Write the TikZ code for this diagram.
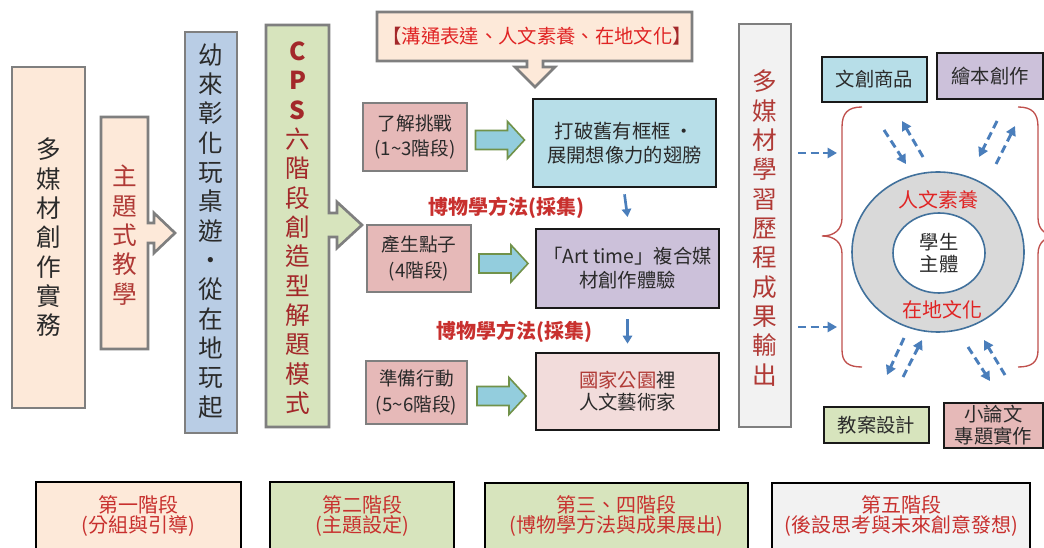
\documentclass[tikz,border=0pt]{standalone}
\usepackage{fontspec}
\setmainfont{Noto Sans CJK TC}
\usetikzlibrary{shapes.geometric,fit,calc,arrows.meta}
\definecolor{peach}{HTML}{FDE9D9}
\definecolor{lblue}{HTML}{B9CDE5}
\definecolor{lgreen}{HTML}{D7E4BD}
\definecolor{pinkb}{HTML}{E6B9B8}
\definecolor{cyanb}{HTML}{B7DEE8}
\definecolor{lav}{HTML}{CCC1DA}
\definecolor{lpink}{HTML}{F2DCDB}
\definecolor{lgray}{HTML}{F2F2F2}
\definecolor{bgray}{HTML}{7F7F7F}
\definecolor{dred}{HTML}{B03A36}
\definecolor{cpsred}{HTML}{A3282A}
\definecolor{bred}{HTML}{E02424}
\definecolor{mred}{HTML}{C8302E}
\definecolor{txt}{HTML}{2A2A2A}
\definecolor{dblue}{HTML}{4A7EBB}
\definecolor{ringgray}{HTML}{D9D9D9}
\definecolor{ringblue}{HTML}{41719C}
\definecolor{bracered}{HTML}{C0504D}
\definecolor{arrcyan}{HTML}{93CDDD}
\definecolor{arrgreen}{HTML}{71924A}
\begin{document}
\begin{tikzpicture}[x=0.75pt,y=-0.75pt,
  gbox/.style={draw=bgray, line width=2pt, inner sep=0pt},
  kbox/.style={draw=black!90, line width=2pt, inner sep=0pt},
  sbox/.style={draw=black, line width=1.5pt, inner sep=0pt},
  gpath/.style={draw=bgray, line width=2pt, line join=miter},
  vtext/.style={align=center, inner sep=0pt, font=\fontsize{18.5}{22}\selectfont},
  htext/.style={align=center, inner sep=0pt, text=txt, font=\fontsize{14}{19}\selectfont},
  btext/.style={align=center, inner sep=0pt, text=txt, font=\fontsize{14.5}{18}\selectfont},
  lbl/.style={text=mred, font=\fontsize{15}{18}\selectfont\bfseries},
  ringlbl/.style={text=bred, font=\fontsize{15}{18}\selectfont},
  stext/.style={align=center, inner sep=0pt, text=mred, font=\fontsize{15}{13.5}\selectfont},
  barrow/.pic={\draw[draw=arrgreen, fill=arrcyan, line width=1.2pt, line join=miter]
     (-24.5,-9.5) -- (7.5,-9.5) -- (7.5,-18.5) -- (24.5,0) -- (7.5,18.5) -- (7.5,9.5) -- (-24.5,9.5) -- cycle;},
  sarrow/.style={draw=dblue, line width=2pt, -{Triangle[length=6pt,width=7pt]}},
  dasharrow/.style={draw=dblue, line width=2.2pt, dash pattern=on 6pt off 3.5pt, -{Triangle[length=7pt,width=7.5pt]}},
  bracepath/.style={draw=bracered, line width=1pt}
]
\useasboundingbox (0,0) rectangle (1044,548);
\clip (0,0) rectangle (1044,548);
\fill[white] (0,0) rectangle (1044,548);

% left column
\node[gbox, fill=peach, fit={(12,67)(85,408)}] (mm) {};
\node[vtext, text=txt] (mmt) at (mm.center) {多\\媒\\材\\創\\作\\實\\務};

\draw[gpath, fill=peach] (101,117) -- (148,117) -- (148,223) -- (154,223) -- (154,213) -- (175,233) -- (154,253) -- (154,243) -- (148,243) -- (148,349) -- (101,349) -- cycle;
\node[vtext, text=dred] (theme) at (124.5,235) {主\\題\\式\\教\\學};

\node[gbox, fill=lblue, fit={(185,32)(237,433)}] (play) {};
\node[vtext, text=txt] (playt) at (211,231) {幼\\來\\彰\\化\\玩\\桌\\遊\\·\\從\\在\\地\\玩\\起};

\draw[gpath, fill=lgreen] (266,25) -- (329,25) -- (329,213) -- (337,213) -- (337,202) -- (362,225) -- (337,248) -- (337,237) -- (329,237) -- (329,427) -- (266,427) -- cycle;
\node[vtext, text=cpsred] (cps) at (297.5,228) {\textbf{C}\\\textbf{P}\\\textbf{S}\\六\\階\\段\\創\\造\\型\\解\\題\\模\\式};

% top banner
\draw[gpath, fill=peach] (377,12) -- (692,12) -- (692,61) -- (543,61) -- (543,67) -- (555,67) -- (535,87) -- (515,67) -- (527,67) -- (527,61) -- (377,61) -- cycle;
\node[font=\fontsize{14.5}{18}\selectfont, text=bred] (banner) at (537,36.5) {\textcolor{cpsred}{【}溝通表達、人文素養、在地文化\textcolor{cpsred}{】}};

% stage boxes
\node[gbox, fill=pinkb, fit={(363,103)(467,171)}] (a1) {};
\node[gbox, fill=pinkb, fit={(367,225)(471,292)}] (a2) {};
\node[gbox, fill=pinkb, fit={(366,361)(467,424)}] (a3) {};
\node[htext] (a1t) at (a1.center) {了解挑戰\\(1\textasciitilde3階段)};
\node[htext] (a2t) at (a2.center) {產生點子\\(4階段)};
\node[htext] (a3t) at (a3.center) {準備行動\\(5\textasciitilde6階段)};

\node[kbox, fill=cyanb, fit={(533,99)(716,187)}] (b1) {};
\node[kbox, fill=lav, fit={(536,229)(719,308)}] (b2) {};
\node[kbox, fill=lpink, fit={(536,353)(719,430)}] (b3) {};
\node[btext] (b1t) at (b1.center) {打破舊有框框 ·\\展開想像力的翅膀};
\node[btext] (b2t) at (b2.center) {「Art time」複合媒\\材創作體驗};
\node[btext, font=\fontsize{14.5}{16.5}\selectfont] (b3t) at (b3.center) {\textcolor{dred}{國家公園}裡\\人文藝術家};

\pic (ar1) at ($(a1.east)!0.5!(b1.west)$) {barrow};
\pic (ar2) at ($(a2.east)!0.5!(b2.west)$) {barrow};
\pic (ar3) at ($(a3.east)!0.5!(b3.west)+(0,4)$) {barrow};

\node[lbl] (m1) at (506,208) {博物學方法(採集)};
\node[lbl] (m2) at (514,332) {博物學方法(採集)};

\draw[sarrow] ([yshift=-4.5pt]b1.south) -- ([yshift=8pt]b2.north);
\draw[sarrow] ([yshift=-7.5pt]b2.south) -- ([yshift=6pt]b3.north);

% output column
\node[gbox, fill=lgray, fit={(739,24)(791,427)}] (out) {};
\node[vtext, text=dred] (outt) at (765,228) {多\\媒\\材\\學\\習\\歷\\程\\成\\果\\輸\\出};

\coordinate (o1s) at (798,153); \coordinate (o1e) at (837,153);
\coordinate (o2s) at (798,327); \coordinate (o2e) at (837,327);
\draw[dasharrow] (o1s) -- (o1e);
\draw[dasharrow] (o2s) -- (o2e);

% braces
\draw[bracepath] (862,107) .. controls (848,107) and (842,113) .. (842,127) -- (842,218) .. controls (842,230) and (834,236) .. (822,236) .. controls (834,236) and (842,242) .. (842,254) -- (842,350) .. controls (842,362) and (848,367) .. (862,367);
\draw[bracepath] (1018,107) .. controls (1032,107) and (1038,113) .. (1038,127) -- (1038,218) .. controls (1038,230) and (1046,236) .. (1058,236) .. controls (1046,236) and (1038,242) .. (1038,254) -- (1038,350) .. controls (1038,362) and (1032,367) .. (1018,367);

% ring
\node[ellipse, draw=ringblue, fill=ringgray, line width=1.2pt, minimum width=129pt, minimum height=120pt] (ring) at (938,252) {};
\node[ellipse, draw=ringblue, fill=white, line width=1.2pt, minimum width=69pt, minimum height=60pt] (core) at (939,253) {};
\node[htext, font=\fontsize{14.5}{16.5}\selectfont] (coret) at (core.center) {學生\\主體};
\node[ringlbl] (rl1) at (938,200) {人文素養};
\node[ringlbl] (rl2) at (942,310) {在地文化};

% product boxes
\node[kbox, fill=cyanb, fit={(822,57)(927,102)}] (p1) {};
\node[kbox, fill=lav, fit={(937,53)(1043,99)}] (p2) {};
\node[kbox, fill=lgreen, fit={(824,407)(929,443)}] (p3) {};
\node[kbox, fill=pinkb, fit={(944,403)(1043,448)}] (p4) {};
\node[htext, font=\fontsize{14.5}{18}\selectfont] (p1t) at (p1.center) {文創商品};
\node[htext, font=\fontsize{14.5}{18}\selectfont] (p2t) at (p2.center) {繪本創作};
\node[htext, font=\fontsize{14.5}{18}\selectfont] (p3t) at (p3.center) {教案設計};
\node[htext, font=\fontsize{14.5}{16.5}\selectfont] (p4t) at (p4.center) {小論文\\專題實作};

% dashed arrows around ring
\coordinate (t1a) at (884,130); \coordinate (t1b) at (906,164);
\coordinate (t2a) at (923,157); \coordinate (t2b) at (902,121);
\coordinate (t3a) at (997,121); \coordinate (t3b) at (979,157);
\coordinate (t4a) at (996,164); \coordinate (t4b) at (1015,126);
\coordinate (u1a) at (904,338); \coordinate (u1b) at (887,375);
\coordinate (u2a) at (903,377); \coordinate (u2b) at (922,340);
\coordinate (u3a) at (968,347); \coordinate (u3b) at (990,381);
\coordinate (u4a) at (1005,375); \coordinate (u4b) at (984,340);
\draw[dasharrow] (t1a) -- (t1b);
\draw[dasharrow] (t2a) -- (t2b);
\draw[dasharrow] (t3a) -- (t3b);
\draw[dasharrow] (t4a) -- (t4b);
\draw[dasharrow] (u1a) -- (u1b);
\draw[dasharrow] (u2a) -- (u2b);
\draw[dasharrow] (u3a) -- (u3b);
\draw[dasharrow] (u4a) -- (u4b);

% bottom stage boxes
\node[sbox, fill=peach, fit={(36,482)(241,560)}] (s1) {};
\node[sbox, fill=lgreen, fit={(270,482)(454,560)}] (s2) {};
\node[sbox, fill=lgreen, fit={(485,483)(748,560)}] (s3) {};
\node[sbox, fill=lgray, fit={(772,483)(1030,560)}] (s4) {};
\node[stext] (s1t) at ($(s1.north)+(0,35)$) {第一階段\\(分組與引導)};
\node[stext] (s2t) at ($(s2.north)+(0,35)$) {第二階段\\(主題設定)};
\node[stext] (s3t) at ($(s3.north)+(0,34)$) {第三、四階段\\(博物學方法與成果展出)};
\node[stext] (s4t) at ($(s4.north)+(0,34)$) {第五階段\\(後設思考與未來創意發想)};
\end{tikzpicture}
\end{document}
